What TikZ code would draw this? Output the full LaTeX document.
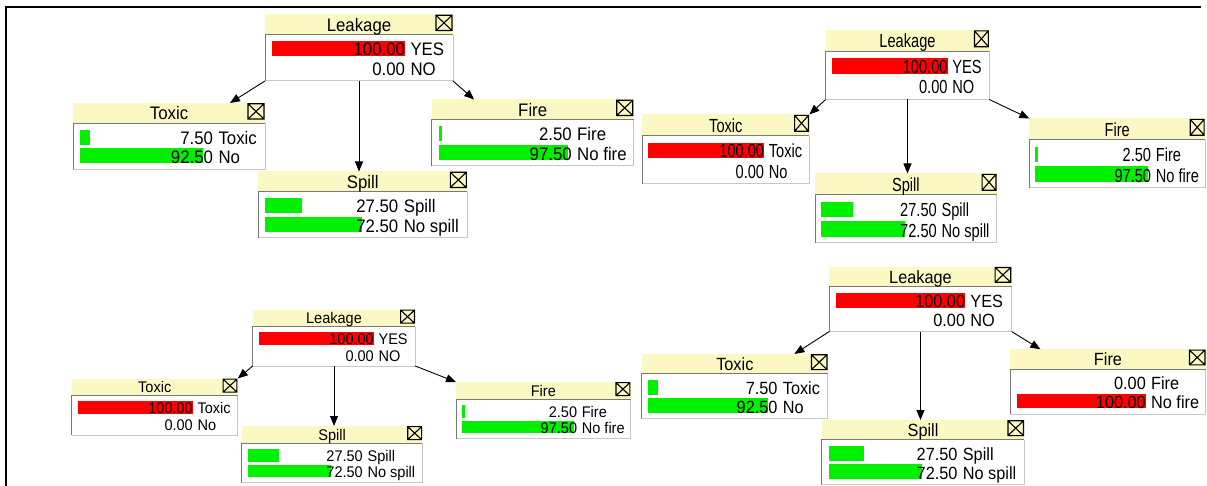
\documentclass[tikz,border=0pt]{standalone}
\usepackage{fontspec}
\setmainfont{Liberation Sans}
\usepackage{graphicx}
\usetikzlibrary{arrows.meta,calc}
\definecolor{hdr}{RGB}{252,248,196}
\definecolor{barred}{RGB}{255,0,0}
\definecolor{bargreen}{RGB}{0,240,0}
\definecolor{edgedark}{RGB}{120,120,120}
\definecolor{edgelight}{RGB}{200,200,200}
\tikzset{
  monbox/.style={draw=none, inner sep=0pt, outer sep=0pt, anchor=north west, rectangle},
  txt/.style={inner sep=0pt, outer sep=0pt, font=\fontsize{16.8}{18}\selectfont},
  chk/.style={draw=black, line width=1.1pt},
  arr/.style={draw=black, line width=0.9pt, -{Triangle[length=10pt,width=8pt]}},
  frame/.style={draw=black, line width=2pt},
}
\newcommand\monrowX[7]{%
  \pgfmathsetmacro\ya{\monH+#2*\psy}%
  \pgfmathsetmacro\yb{\monH+(#2+15)*\psy}%
  \pgfmathsetmacro\yt{\monH+#3*\psy}%
  \pgfmathsetmacro\xa{7*\psx}%
  \pgfmathsetmacro\xe{(7+1.33*#4)*\psx}%
  \ifdim #4pt>0pt \fill[#5] (\xa,\ya) rectangle (\xe,\yb);\fi
  \node[txt, anchor=base east] (\curname-v#1) at (140*\psx,\yt) {\scalebox{\psx}[\psyt]{#6}};
  \node[txt, anchor=base west] (\curname-l#1) at (145.5*\psx,\yt) {\scalebox{\psx}[\psyt]{#7}};
}
\def\monrowA#1/#2/#3/#4\relax{\monrowX{1}{6.5}{21}{#1}{#2}{#3}{#4}}
\def\monrowB#1/#2/#3/#4\relax{\monrowX{2}{25}{40.5}{#1}{#2}{#3}{#4}}
\newcommand\mon[7]{%
  \pgfmathsetmacro\monW{#4*\psx}%
  \pgfmathsetmacro\monH{20.5*\psy}%
  \pgfmathsetmacro\monT{66.5*\psy}%
  \pgfmathsetmacro\psyt{1.08*\psy}%
  \def\curname{#1}%
  \node[monbox, minimum width=\monW pt, minimum height=\monT pt] (#1) at (#2,#3) {};
  \begin{scope}[shift={(#1.north west)}]
    \fill[hdr] (0,0) rectangle (\monW,\monH);
    \fill[white] (0,\monH) rectangle (\monW,\monT);
    \draw[edgelight, line width=1pt] (0,\monT) -- (\monW,\monT) -- (\monW,\monH);
    \draw[edgedark, line width=1pt] (0,\monT) -- (0,\monH) -- (\monW,\monH);
    \node[txt, anchor=base] (#1-t) at (\monW/2,17*\psy) {\scalebox{\psx}[\psyt]{#5}};
    \draw[chk] (\monW-17*\psx,0.8*\psy) rectangle (\monW-1*\psx,16*\psy)
      (\monW-17*\psx,0.8*\psy) -- (\monW-1*\psx,16*\psy)
      (\monW-17*\psx,16*\psy) -- (\monW-1*\psx,0.8*\psy);
    \monrowA#6\relax
    \monrowB#7\relax
  \end{scope}
}
\begin{document}
\begin{tikzpicture}[x=1pt,y=-1pt]
\useasboundingbox (0,0) rectangle (1207,486);
\clip (0,0) rectangle (1207,486);
\fill[white] (0,0) rectangle (1207,486);
\draw[frame] (5.5,490) -- (5.5,7.5) -- (1201,7.5);

% top left
\def\psx{1}\def\psy{1}
\mon{LkA}{265}{14.5}{188}{Leakage}{100/barred/100.00/YES}{0/white/0.00/NO}
\mon{TxA}{73}{103}{192}{Toxic}{7.5/bargreen/7.50/Toxic}{92.5/bargreen/92.50/No}
\mon{FiA}{431.7}{99.5}{202}{Fire}{2.5/bargreen/2.50/Fire}{97.5/bargreen/97.50/No fire}
\mon{SpA}{258.3}{171.5}{209}{Spill}{27.5/bargreen/27.50/Spill}{72.5/bargreen/72.50/No spill}

% top right
\def\psx{0.87}\def\psy{1.045}
\mon{LkB}{825.7}{30}{188}{Leakage}{100/barred/100.00/YES}{0/white/0.00/NO}
\mon{TxB}{642.3}{114.5}{192}{Toxic}{100/barred/100.00/Toxic}{0/white/0.00/No}
\mon{SpB}{815}{173.5}{209}{Spill}{27.5/bargreen/27.50/Spill}{72.5/bargreen/72.50/No spill}
\mon{FiB}{1029.3}{118.5}{202}{Fire}{2.5/bargreen/2.50/Fire}{97.5/bargreen/97.50/No fire}

% bottom left
\def\psx{0.865}\def\psy{0.85}
\mon{LkC}{252.7}{309.5}{188}{Leakage}{100/barred/100.00/YES}{0/white/0.00/NO}
\mon{TxC}{71.7}{378.5}{192}{Toxic}{100/barred/100.00/Toxic}{0/white/0.00/No}
\mon{SpC}{241.7}{426}{209}{Spill}{27.5/bargreen/27.50/Spill}{72.5/bargreen/72.50/No spill}
\mon{FiC}{456}{382}{202}{Fire}{2.5/bargreen/2.50/Fire}{97.5/bargreen/97.50/No fire}

% bottom right
\def\psx{0.97}\def\psy{0.975}
\mon{LkD}{829.3}{266.7}{188}{Leakage}{100/barred/100.00/YES}{0/white/0.00/NO}
\mon{TxD}{641.7}{354}{192}{Toxic}{7.5/bargreen/7.50/Toxic}{92.5/bargreen/92.50/No}
\mon{FiD}{1010}{349.3}{202}{Fire}{0/white/0.00/Fire}{100/barred/100.00/No fire}
\mon{SpD}{821.7}{420}{209}{Spill}{27.5/bargreen/27.50/Spill}{72.5/bargreen/72.50/No spill}

% connectors
\draw[arr] (LkA.south west) -- ($(TxA.north)!0.635!(TxA.north east)$);
\draw[arr] (LkA.south) -- (LkA.south |- SpA.north);
\draw[arr] (LkA.south east) -- ($(FiA.north west)!0.42!(FiA.north)$);

\draw[arr] (LkB.south west) -- (TxB.north east);
\draw[arr] (LkB.south) -- (LkB.south |- SpB.north);
\draw[arr] (LkB.south east) -- (FiB.north west);

\draw[arr] (LkC.south west) -- (TxC.north east);
\draw[arr] (LkC.south) -- (LkC.south |- SpC.north);
\draw[arr] (LkC.south east) -- (FiC.north west);

\draw[arr] (LkD.south west) -- ($(TxD.north)!0.64!(TxD.north east)$);
\draw[arr] (LkD.south) -- (LkD.south |- SpD.north);
\draw[arr] (LkD.south east) -- ($(FiD.north west)!0.31!(FiD.north)$);
\end{tikzpicture}
\end{document}
